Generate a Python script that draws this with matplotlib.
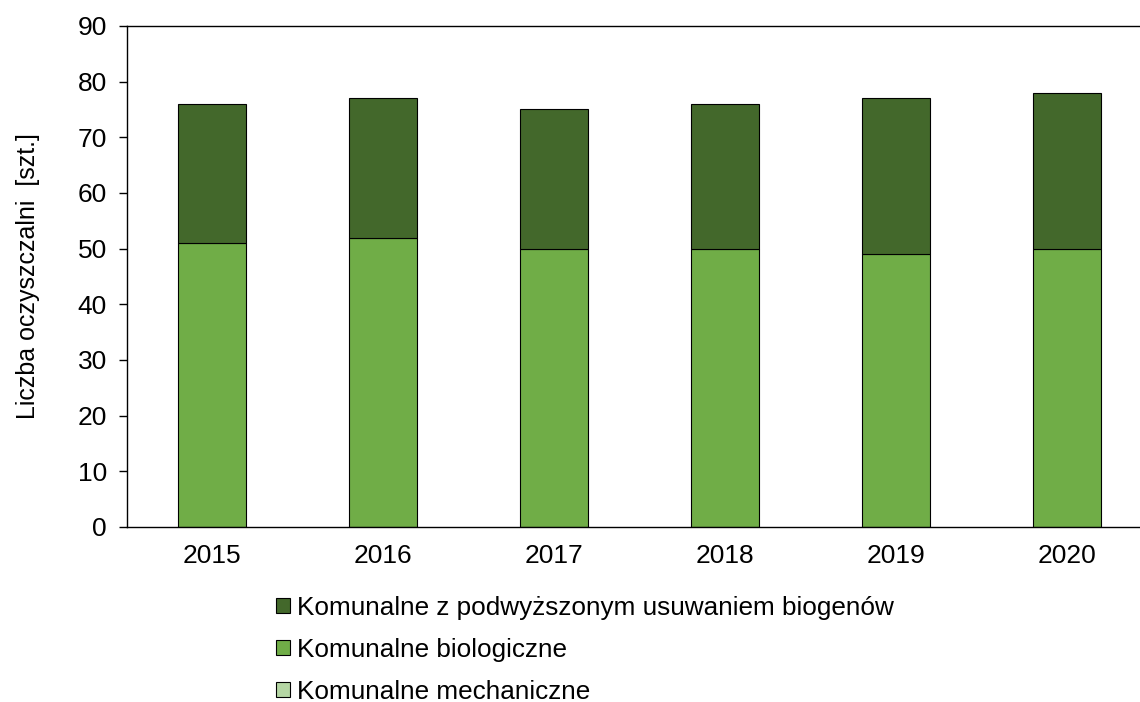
import matplotlib
matplotlib.use("Agg")
import matplotlib.pyplot as plt
import numpy as np

plt.rcParams['font.family'] = ['Liberation Sans', 'DejaVu Sans']

years = ['2015', '2016', '2017', '2018', '2019', '2020']
mechaniczne = [0, 0, 0, 0, 0, 0]
biologiczne = [51, 52, 50, 50, 49, 50]
podwyzszone = [25, 25, 25, 26, 28, 28]

labels = ['Komunalne z podwyższonym usuwaniem biogenów',
          'Komunalne biologiczne',
          'Komunalne mechaniczne']
colors = ['#43682B', '#70AD47', '#B5D6A4']

fig = plt.figure(figsize=(11.4, 7.02), dpi=100)
W, H = 1140, 702
ax = fig.add_axes([126.5 / W, 1 - 527 / H, (1152.5 - 126.5) / W, (527 - 26) / H])

x = np.arange(len(years))
width = 0.4
mech = np.array(mechaniczne, dtype=float)
bio = np.array(biologiczne, dtype=float)
pod = np.array(podwyzszone, dtype=float)

b_mech = ax.bar(x, mech, width, color=colors[2], edgecolor='black', linewidth=0.8, label=labels[2])
b_bio = ax.bar(x, bio, width, bottom=mech, color=colors[1], edgecolor='black', linewidth=0.8, label=labels[1])
b_pod = ax.bar(x, pod, width, bottom=mech + bio, color=colors[0], edgecolor='black', linewidth=0.8, label=labels[0])

ax.set_xlim(-0.5, 5.5)
ax.set_ylim(0, 90)
ax.set_yticks(np.arange(0, 91, 10))
ax.set_xticks(x)
ax.set_xticklabels(years)
ax.tick_params(axis='y', direction='out', length=6, width=1, labelsize=19, pad=8)
ax.tick_params(axis='x', length=0, labelsize=19, pad=12)
ax.spines['right'].set_visible(False)
for s in ['left', 'top', 'bottom']:
    ax.spines[s].set_linewidth(1.0)
ax.set_ylabel('Liczba oczyszczalni  [szt.]', fontsize=18, labelpad=27)

leg = fig.legend([b_pod, b_bio, b_mech], labels, loc='upper left',
                 bbox_to_anchor=(276 / W, 1 - 596 / H), frameon=False,
                 fontsize=18.8, handlelength=0.52, handleheight=0.52,
                 handletextpad=0.27, labelspacing=0.68, borderaxespad=0, borderpad=0)

fig.savefig('out.png', dpi=100)
